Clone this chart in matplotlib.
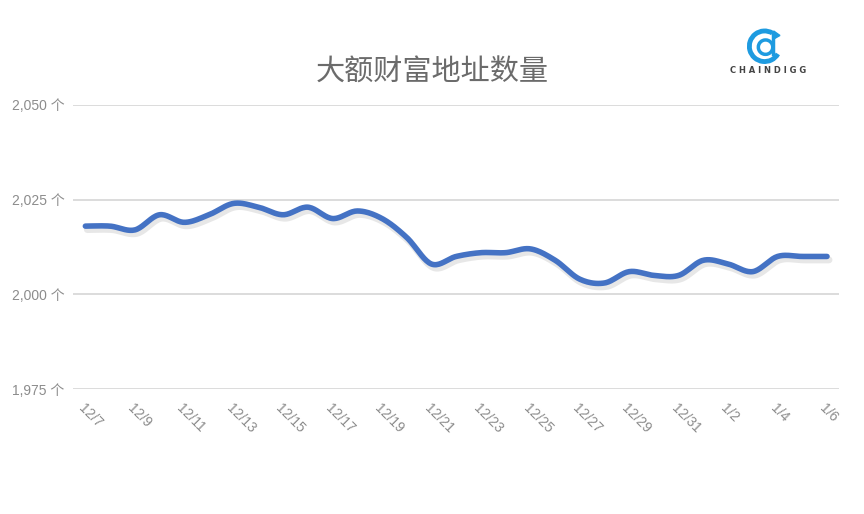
import numpy as np
import matplotlib.pyplot as plt
from matplotlib.patches import Arc, Polygon

plt.rcParams['font.family'] = ['Noto Sans CJK SC', 'DejaVu Sans']

# data
dates = ['12/7', '12/8', '12/9', '12/10', '12/11', '12/12', '12/13', '12/14',
         '12/15', '12/16', '12/17', '12/18', '12/19', '12/20', '12/21', '12/22',
         '12/23', '12/24', '12/25', '12/26', '12/27', '12/28', '12/29', '12/30',
         '12/31', '1/1', '1/2', '1/3', '1/4', '1/5', '1/6']
counts = [2018, 2018, 2017, 2021, 2019, 2021, 2024, 2023,
          2021, 2023, 2020, 2022, 2020, 2015, 2008, 2010,
          2011, 2011, 2012, 2009, 2004, 2003, 2006, 2005,
          2005, 2009, 2008, 2006, 2010, 2010, 2010]
yticks = [1975, 2000, 2025, 2050]


def smooth(x, y, n=20):
    # catmull-rom style smoothing like excel's smoothed line
    x = np.asarray(x, float)
    y = np.asarray(y, float)
    px = np.concatenate([[x[0]], x, [x[-1]]])
    py = np.concatenate([[y[0]], y, [y[-1]]])
    xs, ys = [], []
    t = np.linspace(0, 1, n, endpoint=False)
    for i in range(1, len(px) - 2):
        p0, p1, p2, p3 = py[i - 1], py[i], py[i + 1], py[i + 2]
        q0, q1, q2, q3 = px[i - 1], px[i], px[i + 1], px[i + 2]
        for arr, a0, a1, a2, a3 in ((xs, q0, q1, q2, q3), (ys, p0, p1, p2, p3)):
            arr.extend(0.5 * (2 * a1 + (-a0 + a2) * t + (2 * a0 - 5 * a1 + 4 * a2 - a3) * t ** 2
                              + (-a0 + 3 * a1 - 3 * a2 + a3) * t ** 3))
    xs.append(x[-1])
    ys.append(y[-1])
    return np.array(xs), np.array(ys)


fig = plt.figure(figsize=(8.64, 5.14), dpi=100)
ax = fig.add_axes([0.0845, 0.243, 0.887, 0.553])

x = np.arange(len(dates))
sx, sy = smooth(x, counts)
# soft shadow under the line
ax.plot(sx + 0.08, sy - 0.9, color='#a0a0a0', lw=5, alpha=0.25, solid_capstyle='round', zorder=2)
ax.plot(sx, sy, color='#4472C4', lw=4, solid_capstyle='round', zorder=3)

lab_font = ['Liberation Sans', 'Noto Sans CJK SC']
ax.set_xlim(-0.5, len(dates) - 0.5)
ax.set_ylim(1975, 2050)
ax.set_yticks(yticks)
ax.set_yticklabels(['{:,} 个'.format(v) for v in yticks], color='#8c8c8c', fontsize=10,
                   family=lab_font)
ax.set_xticks(x[::2])
ax.set_xticklabels(dates[::2], rotation=-45, ha='left', va='top', color='#8c8c8c',
                   fontsize=10, rotation_mode='anchor', family=lab_font)
ax.tick_params(length=0, pad=6)
ax.tick_params(axis='x', pad=9)
ax.grid(axis='y', color='#d9d9d9', lw=1.3)
ax.set_axisbelow(True)
for s in ax.spines.values():
    s.set_visible(False)

fig.text(0.50, 0.858, '大额财富地址数量', ha='center', va='center', fontsize=21,
         color='#6b6b6b', fontweight='medium')

# chaindigg logo
lax = fig.add_axes([0.855, 0.875, 0.06, 0.07])
lax.set_xlim(-1, 1)
lax.set_ylim(-1, 1)
lax.set_aspect('equal')
lax.axis('off')
lax.add_patch(Arc((0, 0), 1.7, 1.7, theta1=60, theta2=330, color='#1e9be0', lw=3.5))
lax.add_patch(Arc((0.05, -0.05), 0.8, 0.8, theta1=0, theta2=360, color='#1e9be0', lw=2.5))
lax.plot([0.45, 0.45], [-0.45, 0.75], color='#1e9be0', lw=2.5)
lax.add_patch(Polygon([[0.5, 0.85], [0.85, 0.6], [0.5, 0.4]], color='#1e9be0'))
fig.text(0.8895, 0.862, 'C H A I N D I G G', ha='center', va='center', fontsize=6,
         fontweight='bold', color='#444444', family='DejaVu Sans')

fig.savefig('out.png', dpi=100)
